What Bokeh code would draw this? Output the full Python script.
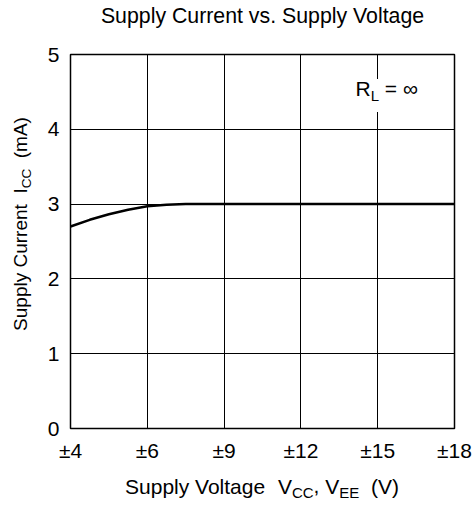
import numpy as np
from math import pi
from bokeh.plotting import figure
from bokeh.layouts import column, row
from bokeh.models import Label, FixedTicker, Range1d
from bokeh.embed import file_html
from bokeh.resources import INLINE

# Supply voltage ticks (evenly spaced on the axis even though the values are not)
supply_volts = [4, 6, 9, 12, 15, 18]
volt_tick_labels = ["±4", "±6", "±9", "±12", "±15", "±18"]
current_ticks = [0, 1, 2, 3, 4, 5]

# Supply current curve, R_L = infinity
curve_volts = [4.0, 4.5, 5.0, 5.5, 6.0, 6.75, 7.5, 9.0, 12.0, 15.0, 18.0]
curve_current = [2.70, 2.79, 2.865, 2.925, 2.97, 2.99, 3.0, 3.0, 3.0, 3.0, 3.0]

W, H = 476, 508
TOP, BOTTOM, LEFT = 40, 40, 40          # strips holding the title and axis titles
FL, FR, FT, FB = 70, 454, 54, 428       # plot frame in page pixels
FONT = "Liberation Sans"
BASE_K = 0.4                            # Bokeh's alphabetic anchor sits this far (in em) below the baseline
ROT_DY = 40                             # offset seen on rotated labels

# Arial / Liberation Sans advance widths (per 1000 em) for label layout
ADV = {" ": 278, "S": 667, "u": 556, "p": 556, "l": 222, "y": 500, "C": 722,
       "r": 333, "e": 556, "n": 556, "t": 278, "v": 500, "s": 500, ".": 278,
       "V": 667, "o": 556, "a": 556, "g": 556, "I": 278, "(": 333, ")": 333,
       "m": 833, "A": 667, ",": 278, "E": 667, "R": 722, "L": 556, "=": 584,
       "∞": 713}


def tw(s, size):
    return sum(ADV.get(ch, 556) for ch in s) * size / 1000.0


def strip(width, height):
    f = figure(width=width, height=height, output_backend="svg",
               toolbar_location=None, title=None,
               x_range=Range1d(0, 1), y_range=Range1d(0, 1),
               x_axis_location=None, y_axis_location=None, min_border=0)
    f.grid.visible = False
    f.outline_line_color = None
    f.background_fill_color = "white"
    f.border_fill_color = "white"
    return f


# map volts onto the evenly spaced tick positions
tick_pos = list(range(len(supply_volts)))
curve_x = np.interp(curve_volts, supply_volts, tick_pos)

p = figure(width=W - LEFT, height=H - TOP - BOTTOM, output_backend="svg",
           toolbar_location=None, title=None,
           x_range=Range1d(0, 5), y_range=Range1d(0, 5),
           min_border_left=FL - LEFT, min_border_right=W - FR,
           min_border_top=FT - TOP, min_border_bottom=H - BOTTOM - FB)
p.background_fill_color = "white"
p.border_fill_color = "white"
p.outline_line_color = "black"
p.outline_line_width = 1.5

p.line(curve_x, curve_current, line_color="black", line_width=2.5)

p.xaxis.ticker = FixedTicker(ticks=tick_pos)
p.xaxis.major_label_overrides = {i: t for i, t in zip(tick_pos, volt_tick_labels)}
p.yaxis.ticker = FixedTicker(ticks=current_ticks)
for ax in (p.xaxis, p.yaxis):
    ax.axis_line_color = None
    ax.major_tick_in = 0
    ax.major_tick_out = 0
    ax.minor_tick_line_color = None
    ax.major_label_text_font = FONT
    ax.major_label_text_font_size = "21px"
    ax.major_label_text_color = "black"
p.xaxis.major_label_standoff = 10
p.yaxis.major_label_standoff = 11

p.grid.grid_line_color = "black"
p.grid.grid_line_width = 1
p.grid.grid_line_alpha = 1.0

title_fig = strip(W, TOP)
ylab_fig = strip(LEFT, H - TOP - BOTTOM)
xlab_fig = strip(W, BOTTOM)

# frame left / bottom of each figure, in page pixels
FRAMES = {id(p): (FL, FB), id(title_fig): (0, TOP),
          id(ylab_fig): (0, H - BOTTOM), id(xlab_fig): (0, H)}


def lab(fig, cx, cy, text, size, angle=0.0, align="left", **kw):
    """Place text with its baseline start at page pixel (cx, cy)."""
    left, bottom = FRAMES[id(fig)]
    if angle:
        cx -= BASE_K * size
        cy += ROT_DY
    else:
        cy -= BASE_K * size
    fig.add_layout(Label(x=cx - left, y=bottom - cy, x_units="screen",
                         y_units="screen", text=text, angle=angle,
                         text_font=FONT, text_font_size=f"{size}px",
                         text_color="black", text_align=align,
                         text_baseline="alphabetic", **kw))


def gap(n, size):
    return (None, n * tw(" ", size), 0)


def piece(text, size, dy=0):
    return (text, size, dy)


def run_width(runs):
    return sum(s if t is None else tw(t, s) for t, s, d in runs)


def runs_h(fig, center_x, base_y, runs):
    x = center_x - run_width(runs) / 2
    for t, s, d in runs:
        if t is None:
            x += s
            continue
        lab(fig, x, base_y + d, t, s)
        x += tw(t, s)


def runs_v(fig, base_x, center_y, runs):
    y = center_y + run_width(runs) / 2
    for t, s, d in runs:
        if t is None:
            y -= s
            continue
        lab(fig, base_x + d, y, t, s, angle=pi / 2)
        y -= tw(t, s)


lab(title_fig, 262, 24.5, "Supply Current vs. Supply Voltage", 21.3, align="center")

runs_h(xlab_fig, 261.5, 494.3,
       [piece("Supply Voltage", 21), gap(2, 21), piece("V", 21), piece("CC", 15, 4),
        piece(",", 21), gap(1, 21), piece("V", 21), piece("EE", 15, 4),
        gap(2, 21), piece("(V)", 21)])

runs_v(ylab_fig, 27.5, 223.5,
       [piece("Supply Current", 19), gap(2, 19), piece("I", 19), piece("CC", 13.5, 4),
        gap(2, 19), piece("(mA)", 19)])

# R_L = infinity note; the subscript carries a white box that breaks the grid line
PAD = 8
rx, rb = 355, 96.5
lx = rx + tw("R", 21)
ex = lx + tw("L", 15) + tw(" ", 21)
lab(p, lx - PAD, rb + 4.5, "L", 15, background_fill_color="white", padding=PAD)
lab(p, rx, rb, "R", 21)
lab(p, ex, rb, "=", 21)
lab(p, ex + tw("=", 21) + tw(" ", 21), rb, "∞", 21)

layout = column(title_fig, row(ylab_fig, p, spacing=0), xlab_fig, spacing=0)
open("out.html", "w").write(file_html(layout, INLINE))
